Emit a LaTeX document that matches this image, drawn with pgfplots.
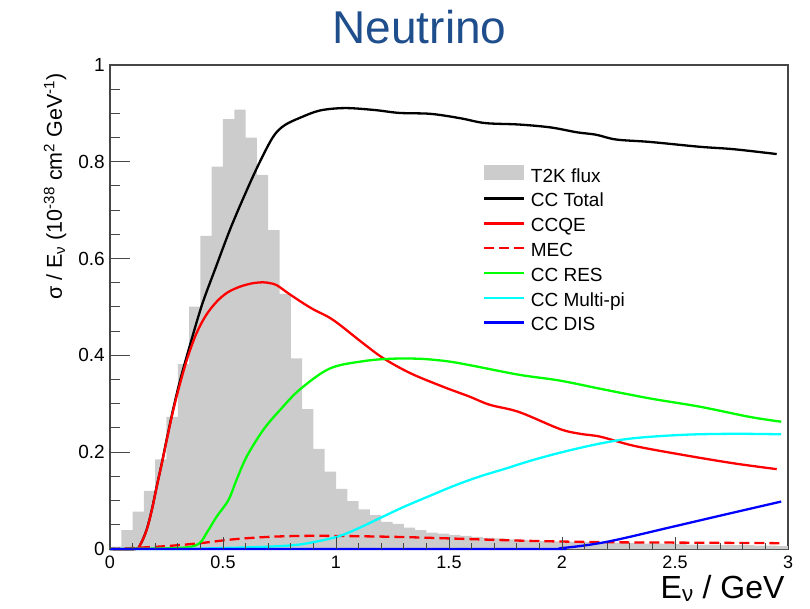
\documentclass[border=0pt]{standalone}
\usepackage{fontspec}
\setmainfont{Liberation Sans}
\usepackage{pgfplots}
\pgfplotsset{compat=1.18}
\definecolor{titleblue}{RGB}{31,78,140}
\definecolor{histgray}{RGB}{204,204,204}
\definecolor{axgray}{RGB}{70,70,70}
\definecolor{cRed}{RGB}{255,0,0}
\definecolor{cGreen}{RGB}{0,255,0}
\definecolor{cCyan}{RGB}{0,255,255}
\definecolor{cBlue}{RGB}{0,0,255}
\begin{document}
\begin{tikzpicture}
\begin{axis}[
  scale only axis, width=678bp, height=484bp,
  xmin=0, xmax=3, ymin=0, ymax=1,
  clip=false,
  axis line style={axgray, line width=1.1bp},
  tick align=inside, tick pos=left,
  xtick={0,0.5,1,1.5,2,2.5,3}, ytick={0,0.2,0.4,0.6,0.8,1},
  xticklabels={},
  minor y tick num=3,
  xmajorticks=false, xminorticks=false,
  major tick length=20bp, minor tick length=10bp,
  every tick/.style={axgray, line width=1bp},
  /pgf/number format/assume math mode=true,
  yticklabel style={font=\fontsize{19bp}{19bp}\selectfont, anchor=east, inner sep=0pt, xshift=-5bp},
  title={Neutrino},
  every axis title shift=0pt,
  every axis title/.style={at={(0.4565,1)}, anchor=base, yshift=21.7bp, font=\fontsize{46bp}{46bp}\selectfont, text=titleblue},
  xlabel={E\textsubscript{ν} / GeV},
  every axis x label/.style={at={(1,0)}, anchor=base east, yshift=-49bp, font=\fontsize{32bp}{32bp}\selectfont},
  ylabel={σ / E\textsubscript{ν} (10\textsuperscript{-38} cm\textsuperscript{2} GeV\textsuperscript{-1})},
  every axis y label/.style={at={(-0.0708,0.990)}, anchor=base east, rotate=90, font=\fontsize{21.5bp}{21.5bp}\selectfont},
  legend style={at={(0.550,0.794)}, anchor=north west, draw=none, fill=none, inner sep=0pt,
    font=\fontsize{19bp}{19bp}\selectfont, row sep=0pt,
    nodes={inner sep=0pt, text height=14bp, text depth=10.8bp},
    /tikz/every odd column/.append style={column sep=5.5bp}},
  legend cell align=left,
  legend image code/.code={\draw[#1] (0bp,6.7bp) -- (40bp,6.7bp);},
]
% T2K flux histogram (bin left edges, width 0.05 GeV)
\addplot[draw=none, fill=histgray, const plot mark left,
  legend image code/.code={\fill[histgray] (0bp,0bp) rectangle (40bp,15.6bp);}]
coordinates {
(0.00,0.005) (0.05,0.039) (0.10,0.077) (0.15,0.120) (0.20,0.185) (0.25,0.273)
(0.30,0.382) (0.35,0.501) (0.40,0.647) (0.45,0.790) (0.50,0.888) (0.55,0.908)
(0.60,0.850) (0.65,0.773) (0.70,0.659) (0.75,0.527) (0.80,0.394) (0.85,0.289)
(0.90,0.207) (0.95,0.160) (1.00,0.124) (1.05,0.099) (1.10,0.082) (1.15,0.070)
(1.20,0.056) (1.25,0.052) (1.30,0.044) (1.35,0.039) (1.40,0.034) (1.45,0.032)
(1.50,0.029) (1.55,0.027) (1.60,0.025) (1.65,0.023) (1.70,0.022) (1.75,0.020)
(1.80,0.019) (1.85,0.018) (1.90,0.017) (1.95,0.016) (2.00,0.015) (2.05,0.014)
(2.10,0.014) (2.15,0.013) (2.20,0.013) (2.25,0.012) (2.30,0.012) (2.35,0.011)
(2.40,0.011) (2.45,0.010) (2.50,0.010) (2.55,0.009) (2.60,0.009) (2.65,0.009)
(2.70,0.008) (2.75,0.008) (2.80,0.008) (2.85,0.007) (2.90,0.007) (2.95,0.006)
(3.00,0.006)
} \closedcycle;
\addlegendentry{T2K flux}
% CC Total
\addplot[black, line width=2.3bp, smooth, tension=0.55] coordinates {
(0,0) (0.111,0) (0.135,0.010) (0.162,0.040) (0.185,0.081) (0.207,0.130) (0.23,0.179)
(0.251,0.227) (0.28,0.290) (0.31,0.348) (0.347,0.410) (0.406,0.503) (0.465,0.578)
(0.538,0.668) (0.627,0.764) (0.69,0.825) (0.73,0.857) (0.774,0.876)
(0.841,0.891) (0.929,0.906) (1.04,0.911) (1.17,0.907) (1.28,0.901) (1.42,0.899)
(1.55,0.890) (1.66,0.880) (1.81,0.877) (1.95,0.871) (2.065,0.861) (2.15,0.856)
(2.24,0.846) (2.39,0.841) (2.61,0.831) (2.76,0.826) (2.95,0.816)
};
\addlegendentry{CC Total}
% CCQE
\addplot[cRed, line width=2.3bp, smooth, tension=0.55] coordinates {
(0,0) (0.111,0) (0.135,0.010) (0.162,0.039) (0.185,0.080) (0.207,0.129) (0.23,0.178)
(0.251,0.225) (0.28,0.287) (0.31,0.342) (0.345,0.398) (0.383,0.446) (0.425,0.483)
(0.472,0.511) (0.52,0.530) (0.575,0.542) (0.63,0.549) (0.678,0.551) (0.71,0.549)
(0.738,0.545) (0.79,0.528) (0.841,0.512) (0.90,0.495)
(0.988,0.473) (1.12,0.425) (1.21,0.394) (1.33,0.363) (1.475,0.335) (1.59,0.315)
(1.68,0.298) (1.81,0.283) (1.99,0.248) (2.08,0.238) (2.17,0.232) (2.32,0.213)
(2.54,0.194) (2.76,0.177) (2.95,0.165)
};
\addlegendentry{CCQE}
% MEC
\addplot[cRed, line width=2.3bp, dash pattern=on 10bp off 5bp, smooth, tension=0.55] coordinates {
(0,0) (0.1,0.002) (0.25,0.006) (0.398,0.012) (0.546,0.020) (0.70,0.025) (0.841,0.027)
(1.0,0.027) (1.27,0.025) (1.49,0.022) (1.84,0.017) (2.2,0.014) (2.6,0.013) (2.97,0.012)
};
\addlegendentry{MEC}
% CC RES
\addplot[cGreen, line width=2.3bp, smooth, tension=0.55] coordinates {
(0,0) (0.30,0.002) (0.39,0.010) (0.43,0.035) (0.472,0.067) (0.524,0.101) (0.560,0.143)
(0.605,0.191) (0.678,0.246) (0.752,0.287) (0.841,0.330) (0.973,0.373) (1.12,0.388)
(1.24,0.393) (1.37,0.393) (1.49,0.388) (1.59,0.380) (1.81,0.360) (1.99,0.348)
(2.17,0.331) (2.39,0.311) (2.61,0.294) (2.83,0.273) (2.97,0.263)
};
\addlegendentry{CC RES}
% CC Multi-pi
\addplot[cCyan, line width=2.3bp, smooth, tension=0.55] coordinates {
(0,0) (0.3,0) (0.5,0.002) (0.708,0.005) (0.85,0.010) (1.003,0.025) (1.1,0.043)
(1.195,0.064) (1.3,0.087) (1.416,0.110) (1.53,0.132) (1.637,0.150) (1.75,0.166)
(1.858,0.182) (2.0,0.200) (2.17,0.218) (2.32,0.229) (2.54,0.236) (2.76,0.238) (2.97,0.237)
};
\addlegendentry{CC Multi-pi}
% CC DIS
\addplot[cBlue, line width=2.3bp, smooth, tension=0.55] coordinates {
(0,0) (1.85,0) (2.0,0.002) (2.2,0.015) (2.49,0.046) (2.71,0.070) (2.97,0.098)
};
\addlegendentry{CC DIS}
\end{axis}
% overlay axis carrying the shorter x ticks and the x tick labels
\begin{axis}[
  scale only axis, width=678bp, height=484bp,
  xmin=0, xmax=3, ymin=0, ymax=1,
  axis line style={draw=none},
  tick align=inside, tick pos=left,
  xtick={0,0.5,1,1.5,2,2.5,3}, minor x tick num=4,
  ytick=\empty,
  major tick length=12bp, minor tick length=6bp,
  every tick/.style={axgray, line width=1bp},
  /pgf/number format/assume math mode=true,
  xticklabel style={font=\fontsize{18bp}{18bp}\selectfont, anchor=north, inner sep=0pt, yshift=-7bp},
]
\end{axis}
\pgfresetboundingbox
\path[use as bounding box] ([shift={(-110bp,-60bp)}]current axis.south west) rectangle ([shift={(22bp,65bp)}]current axis.north east);
\end{tikzpicture}
\end{document}
